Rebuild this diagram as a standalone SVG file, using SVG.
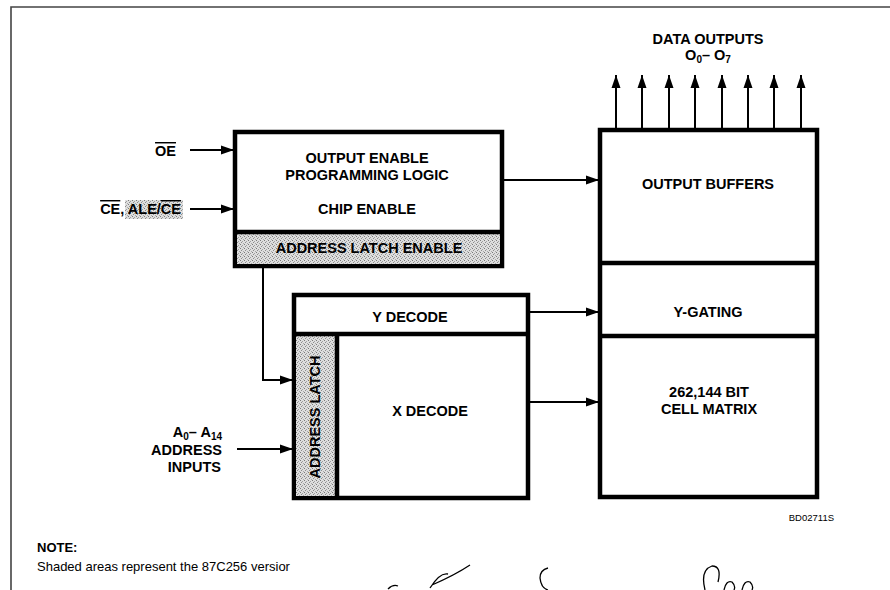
<svg xmlns="http://www.w3.org/2000/svg" width="890" height="590" viewBox="0 0 890 590">
<defs>
<pattern id="shade" width="4" height="4" patternUnits="userSpaceOnUse">
<rect width="4" height="4" fill="#dedede"/>
<rect x="0" y="0" width="1" height="1" fill="#7a7a7a"/>
<rect x="2" y="1" width="1" height="1" fill="#a0a0a0"/>
<rect x="1" y="2" width="1" height="1" fill="#8c8c8c"/>
<rect x="3" y="3" width="1" height="1" fill="#a8a8a8"/>
</pattern>
<marker id="arr" markerUnits="userSpaceOnUse" markerWidth="14" markerHeight="10" refX="13" refY="5" orient="auto">
<path d="M0,0.5 L13,5 L0,9.5 z" fill="#000"/>
</marker>
</defs>
<style>
.box{fill:#fff;stroke:#000;stroke-width:4.5}
.div{stroke:#000;stroke-width:4.5;fill:none}
.sh{fill:url(#shade)}
.con{stroke:#000;stroke-width:2;fill:none}
.t{font-family:"Liberation Sans",Arial,sans-serif;font-weight:bold;font-size:14.5px;fill:#000;text-anchor:middle}
.l{font-family:"Liberation Sans",Arial,sans-serif;font-weight:bold;font-size:14.5px;fill:#000}
.n{font-family:"Liberation Sans",Arial,sans-serif;font-size:13px;fill:#000}
.ol{text-decoration:overline}
.hw{stroke:#000;stroke-width:1.3;fill:none}
</style>
<rect width="890" height="590" fill="#fff"/>
<g id="frame">
<path d="M11,590 V7 H890" fill="none" stroke="#444" stroke-width="1.6"/>
</g>
<g id="control-logic">
<rect class="box" x="235" y="132" width="267" height="134"/>
<rect class="sh" x="237" y="232" width="263" height="32"/>
<line class="div" x1="235" y1="232" x2="502" y2="232"/>
<text class="t" x="367" y="163">OUTPUT ENABLE</text>
<text class="t" x="367" y="180">PROGRAMMING LOGIC</text>
<text class="t" x="367" y="214">CHIP ENABLE</text>
<text class="t" x="369" y="253">ADDRESS LATCH ENABLE</text>
</g>
<g id="memory-column">
<rect class="box" x="600" y="130" width="217" height="367"/>
<line class="div" x1="600" y1="263" x2="817" y2="263"/>
<line class="div" x1="600" y1="336" x2="817" y2="336"/>
</g>
<g id="output-buffers">
<text class="t" x="708" y="189">OUTPUT BUFFERS</text>
</g>
<g id="y-gating">
<text class="t" x="708" y="317">Y-GATING</text>
</g>
<g id="cell-matrix">
<text class="t" x="709" y="397">262,144 BIT</text>
<text class="t" x="709" y="414">CELL MATRIX</text>
</g>
<g id="decode-block">
<rect class="box" x="294" y="295" width="234" height="203"/>
<rect class="sh" x="296" y="334" width="41" height="162"/>
<line class="div" x1="294" y1="334" x2="528" y2="334"/>
<line class="div" x1="337" y1="334" x2="337" y2="498"/>
</g>
<g id="y-decode">
<text class="t" x="410" y="322">Y DECODE</text>
</g>
<g id="x-decode">
<text class="t" x="430" y="416">X DECODE</text>
</g>
<g id="address-latch">
<text class="t" transform="translate(320,417) rotate(-90)" x="0" y="0">ADDRESS LATCH</text>
</g>
<g id="labels">
<text class="l" x="176" y="156" style="text-anchor:end"><tspan class="ol">OE</tspan></text>
<rect class="sh" x="125" y="200" width="58" height="19"/>
<text class="l" x="181" y="214" style="text-anchor:end"><tspan class="ol">CE</tspan>, ALE/<tspan class="ol">CE</tspan></text>
<text class="t" x="708" y="44">DATA OUTPUTS</text>
<text class="t" x="708" y="60">O<tspan font-size="10" dy="3">0</tspan><tspan dy="-3">– O</tspan><tspan font-size="10" dy="3">7</tspan></text>
<text class="l" x="222" y="437" style="text-anchor:end">A<tspan font-size="10" dy="3">0</tspan><tspan dy="-3">– A</tspan><tspan font-size="10" dy="3">14</tspan></text>
<text class="l" x="222" y="455" style="text-anchor:end">ADDRESS</text>
<text class="l" x="221" y="472" style="text-anchor:end">INPUTS</text>
<text class="n" x="834" y="521" style="text-anchor:end;font-size:9.5px">BD02711S</text>
<text class="n" x="37" y="552" style="font-weight:bold">NOTE:</text>
<text class="n" x="37" y="571">Shaded areas represent the 87C256 versior</text>
</g>
<g id="connectors">
<line class="con" x1="190" y1="150" x2="234" y2="150" marker-end="url(#arr)"/>
<line class="con" x1="190" y1="209" x2="234" y2="209" marker-end="url(#arr)"/>
<line class="con" x1="502" y1="180" x2="599" y2="180" marker-end="url(#arr)"/>
<path class="con" d="M263,266 V380 H293" marker-end="url(#arr)"/>
<line class="con" x1="237" y1="449" x2="293" y2="449" marker-end="url(#arr)"/>
<line class="con" x1="528" y1="312" x2="599" y2="312" marker-end="url(#arr)"/>
<line class="con" x1="528" y1="402" x2="599" y2="402" marker-end="url(#arr)"/>
<line class="con" x1="616" y1="130" x2="616" y2="75" marker-end="url(#arr)"/>
<line class="con" x1="642" y1="130" x2="642" y2="75" marker-end="url(#arr)"/>
<line class="con" x1="669" y1="130" x2="669" y2="75" marker-end="url(#arr)"/>
<line class="con" x1="695" y1="130" x2="695" y2="75" marker-end="url(#arr)"/>
<line class="con" x1="722" y1="130" x2="722" y2="75" marker-end="url(#arr)"/>
<line class="con" x1="748" y1="130" x2="748" y2="75" marker-end="url(#arr)"/>
<line class="con" x1="774" y1="130" x2="774" y2="75" marker-end="url(#arr)"/>
<line class="con" x1="801" y1="130" x2="801" y2="75" marker-end="url(#arr)"/>
</g>
<g id="handwriting">
<path class="hw" d="M388,589 Q393,584 398,586"/>
<path class="hw" d="M430,588 Q440,572 448,574 M432,585 Q455,575 470,565"/>
<path class="hw" d="M548,568 Q540,570 540,578 Q541,588 548,590"/>
<path class="hw" d="M705,590 Q700,570 712,566 Q722,566 718,582 M724,590 Q726,580 732,582 Q736,586 734,590 M742,590 Q744,580 750,582 Q754,586 752,590"/>
</g>
</svg>
